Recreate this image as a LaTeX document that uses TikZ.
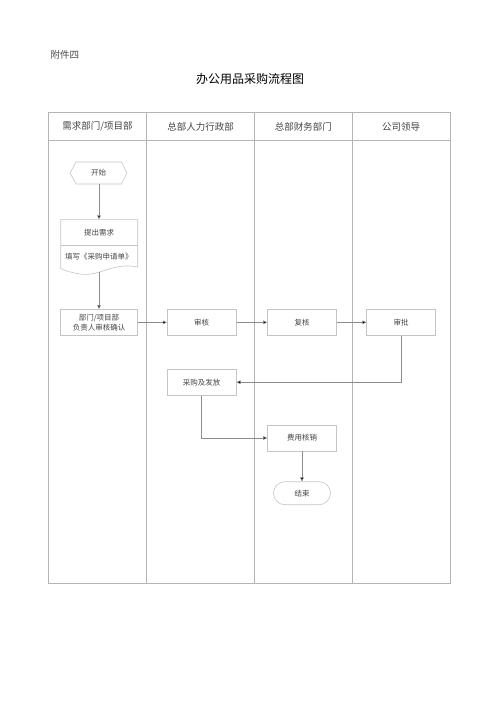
\documentclass[tikz,border=0pt]{standalone}
\usepackage{fontspec}
\setmainfont{Noto Sans CJK SC}
\usetikzlibrary{arrows.meta,calc}
\definecolor{gridc}{HTML}{B4B4B4}
\definecolor{boxc}{HTML}{C4C4C4}
\definecolor{linec}{HTML}{8C8C8C}
\definecolor{txtc}{HTML}{444444}
\tikzset{
  procbox/.style={draw=boxc,line width=0.6pt,minimum width=69pt,minimum height=26pt,inner sep=0pt,font=\fontsize{7.5}{10}\selectfont,text=txtc,align=center},
  conn/.style={draw=linec,line width=0.5pt,-{Triangle[length=4pt,width=3.5pt,fill=black]}},
  hdr/.style={font=\fontsize{9.5}{11}\selectfont,text=txtc}
}
\begin{document}
\begin{tikzpicture}[x=1pt,y=-1pt]
\useasboundingbox (0,0) rectangle (500,707);
% headings
\node[font=\fontsize{9.5}{11}\selectfont,text=txtc,anchor=west] (att) at (47,55) {附件四};
\node[font=\fontsize{12}{14}\selectfont,text=black] (title) at (250,79) {办公用品采购流程图};
% table
\draw[gridc,line width=0.7pt] (48.3,112.3) rectangle (450,583.3);
\draw[gridc,line width=0.7pt] (48.3,140.7) -- (450,140.7);
\draw[gridc,line width=0.7pt] (146.7,112.3) -- (146.7,583.3);
\draw[gridc,line width=0.7pt] (254.3,112.3) -- (254.3,583.3);
\draw[gridc,line width=0.7pt] (352.3,112.3) -- (352.3,583.3);
\node[hdr] (h1) at (97.5,126.5) {需求部门/项目部};
\node[hdr] (h2) at (200.5,126.5) {总部人力行政部};
\node[hdr] (h3) at (303.3,126.5) {总部财务部门};
\node[hdr] (h4) at (401.2,126.5) {公司领导};
% start hexagon
\draw[boxc,line width=0.6pt] (70,173) -- (76,162) -- (121.5,162) -- (127,173) -- (121.5,184) -- (76,184) -- cycle;
\node[font=\fontsize{7.5}{10}\selectfont,text=txtc] (start) at (98.5,173) {开始};
\coordinate (startb) at (99,184);
% document
\draw[boxc,line width=0.6pt] (60.7,219.3) -- (137.7,219.3) -- (137.7,267)
  .. controls (112,262) and (100,277) .. (80,274) .. controls (70,272.5) and (64,270) .. (60.7,268.5) -- cycle;
\draw[boxc,line width=0.6pt] (60.7,245.7) -- (137.7,245.7);
\coordinate (doct) at (99,219.3);
\coordinate (docb) at (99,271.8);
\node[font=\fontsize{7.5}{10}\selectfont,text=txtc] (need) at (99.2,232.5) {提出需求};
\node[font=\fontsize{7.5}{10}\selectfont,text=txtc,anchor=west] (fill) at (61.5,257) {填写《采购申请单》};
% process boxes
\node[procbox,minimum width=77pt] (dept) at (99,322.3) {部门/项目部\\负责人审核确认};
\node[procbox] (audit) at (201.7,322.3) {审核};
\node[procbox] (recheck) at (302,322.3) {复核};
\node[procbox] (approve) at (401.2,322.3) {审批};
\node[procbox] (buy) at (201.7,382.2) {采购及发放};
\node[procbox] (fee) at (302,438) {费用核销};
\node[draw=boxc,line width=0.6pt,rounded corners=11.5pt,minimum width=57pt,minimum height=23pt,inner sep=0pt,font=\fontsize{7.5}{10}\selectfont,text=txtc] (end) at (302,493.2) {结束};
% connectors
\draw[conn] (startb) -- (doct);
\draw[conn] (docb) -- (dept.north);
\draw[conn] (dept.east) -- (audit.west);
\draw[conn] (audit.east) -- (recheck.west);
\draw[conn] (recheck.east) -- (approve.west);
\draw[conn] (approve.south) |- (buy.east);
\draw[conn] (buy.south) |- (fee.west);
\draw[conn] (fee.south) -- (end.north);
\end{tikzpicture}
\end{document}
